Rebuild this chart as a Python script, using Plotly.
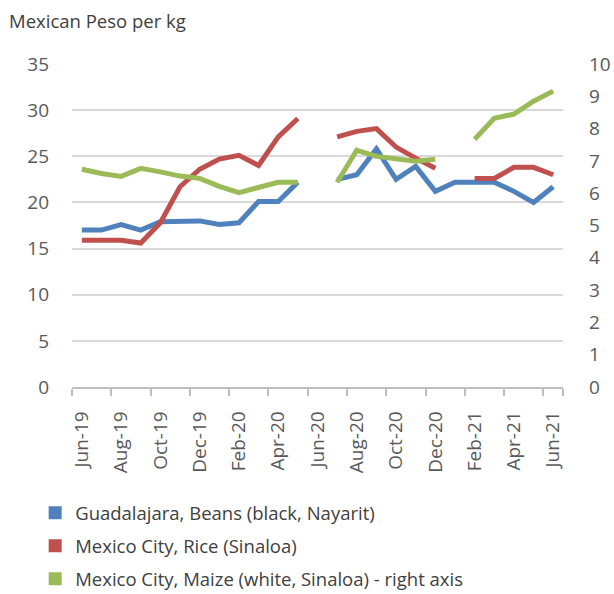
import plotly.graph_objects as go

# monthly retail prices, Jun-19 .. Jun-21 (None = no data)
months = ["Jun-19", "Jul-19", "Aug-19", "Sep-19", "Oct-19", "Nov-19", "Dec-19",
          "Jan-20", "Feb-20", "Mar-20", "Apr-20", "May-20", "Jun-20", "Jul-20",
          "Aug-20", "Sep-20", "Oct-20", "Nov-20", "Dec-20", "Jan-21", "Feb-21",
          "Mar-21", "Apr-21", "May-21", "Jun-21"]

beans_gdl = [17.0, 17.0, 17.6, 17.0, 17.9, 18.0, 18.0, 17.6, 17.8, 20.1, 20.1, 22.2,
             None, 22.5, 23.0, 25.8, 22.5, 23.9, 21.2, 22.2, 22.2, 22.2, 21.2, 20.0, 21.7]
rice_mxc = [15.9, 15.9, 15.9, 15.6, 17.8, 21.7, 23.6, 24.7, 25.1, 24.0, 27.1, 29.1,
            None, 27.1, 27.7, 28.0, 26.0, 24.8, 23.7, None, 22.6, 22.6, 23.8, 23.8, 23.0]
maize_mxc = [6.74, 6.61, 6.52, 6.77, 6.66, 6.53, 6.46, 6.21, 6.02, 6.18, 6.34, 6.34,
             None, 6.34, 7.33, 7.14, 7.08, 6.99, 7.05, None, 7.67, 8.32, 8.45, 8.85, 9.16]

names = ["Guadalajara, Beans (black, Nayarit)",
         "Mexico City, Rice (Sinaloa)",
         "Mexico City, Maize (white, Sinaloa) - right axis"]
colors = ["#4F81BD", "#C0504D", "#9BBB59"]

x_idx = list(range(len(months)))
GREY = "#595959"
FONT = "Open Sans"

fig = go.Figure()

for vals, col, axis in [(beans_gdl, colors[0], "y"), (rice_mxc, colors[1], "y"),
                        (maize_mxc, colors[2], "y2")]:
    fig.add_trace(go.Scatter(x=x_idx, y=vals, mode="lines", yaxis=axis,
                             line=dict(color=col, width=5), showlegend=False,
                             hoverinfo="skip"))

# square legend keys like the original
for i, (nm, col) in enumerate(zip(names, colors)):
    fig.add_trace(go.Scatter(x=[None], y=[None], mode="markers", name=nm,
                             legendgroup=str(i),
                             marker=dict(symbol="square", size=13, color=col)))

fig.update_layout(
    width=614, height=594,
    margin=dict(l=72, r=51, t=64, b=207, autoexpand=False),
    paper_bgcolor="white", plot_bgcolor="white",
    font=dict(family=FONT, size=19, color=GREY),
    xaxis=dict(
        range=[-0.5, len(months) - 0.5],
        tickmode="array", tickvals=x_idx[::2], ticktext=months[::2],
        tickangle=-90, ticks="", showgrid=False, zeroline=False,
        showline=True, linecolor="#BFBFBF", linewidth=1.5,
        ticklabelstandoff=15,
        minor=dict(tickmode="array",
                   tickvals=[v - 0.5 for v in x_idx[::2]] + [len(months) - 0.5],
                   ticks="outside", ticklen=7, tickcolor="#BFBFBF", tickwidth=1.5,
                   showgrid=False),
    ),
    yaxis=dict(range=[0, 35], dtick=5, showgrid=True, gridcolor="#D9D9D9",
               gridwidth=1.5, zeroline=False, ticks="", ticklabelstandoff=22),
    yaxis2=dict(range=[0, 10], dtick=1, overlaying="y", side="right",
                showgrid=False, zeroline=False, ticks="", ticklabelstandoff=25),
    legend=dict(x=-0.075, y=-0.332, xanchor="left", yanchor="top",
                font=dict(size=18.5, color="#404040"), tracegroupgap=6,
                bgcolor="rgba(0,0,0,0)"),
    annotations=[dict(text="Mexican Peso per kg", xref="paper", yref="paper",
                      x=-0.132, y=1.136, xanchor="left", yanchor="middle",
                      showarrow=False, font=dict(size=18.5, color="#404040"))],
)

# drop the default 8px body margin so the figure fills the window exactly
fig.write_html("out.html", config={"displayModeBar": False},
               post_script="document.body.style.margin='0';"
                           "document.body.style.overflow='hidden';")
